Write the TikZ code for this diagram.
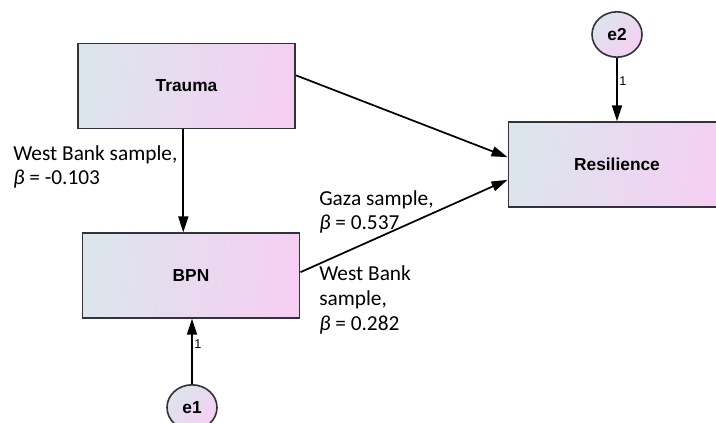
\documentclass[tikz,border=0pt]{standalone}
\usepackage{fontspec}
\setmainfont{Carlito}
\newfontfamily\boxfont{Liberation Sans}
\usepackage{tikz}
\usetikzlibrary{arrows.meta,shapes.geometric}

\definecolor{boxblue}{RGB}{221,229,236}
\definecolor{boxpink}{RGB}{245,207,243}
\definecolor{boxline}{RGB}{50,50,58}

\begin{document}
\begin{tikzpicture}[x=0.75pt,y=-0.75pt,
  varbox/.style={draw=boxline,line width=1.2pt,left color=boxblue,right color=boxpink,
    shading angle=80,minimum width=163pt,minimum height=63.5pt,inner sep=0pt,
    font=\boxfont\fontsize{13}{14}\selectfont\bfseries},
  errnode/.style={ellipse,draw=boxline,line width=1.2pt,left color=boxblue,right color=boxpink,
    shading angle=45,minimum width=37.5pt,minimum height=34pt,inner sep=0pt,
    font=\boxfont\fontsize{13}{14}\selectfont\bfseries},
  path/.style={line width=1.3pt,-{Triangle[length=12pt,width=7.5pt]}},
  coef/.style={align=left,inner sep=0pt,font=\fontsize{16}{18.6}\selectfont},
  one/.style={inner sep=0pt,font=\boxfont\fontsize{9.5}{10}\selectfont}]
\clip (0,0) rectangle (716,423);
\fill[white] (0,0) rectangle (716,423);

\node[varbox] (trauma) at (186.5,86) {Trauma};
\node[varbox] (bpn) at (191,275.5) {BPN};
\node[varbox] (res) at (617,164.5) {Resilience};
\node[errnode] (e1) at (192,407.5) {e1};
\node[errnode] (e2) at (617,34.5) {e2};

\draw[path] ([xshift=-2.4pt]trauma.south) -- ([xshift=-2.4pt]trauma.south |- bpn.north);
\draw[path] ([yshift=8pt]trauma.east) -- ([yshift=5.5pt]res.west);
\draw[path] ([yshift=2.5pt]bpn.east) -- ([yshift=-11.5pt]res.west);
\draw[path] (e1) -- (e1 |- bpn.south);
\draw[path] (e2) -- (e2 |- res.north);

\node[one] (one1) at (198,344) {1};
\node[one] (one2) at (623,81) {1};

% base anchor sits on the last line
\node[coef,anchor=base west] (wb1) at (13,185) {West Bank sample,\\\textit{β} = -0.103};
\node[coef,anchor=base west] (gaza) at (319,230) {Gaza sample,\\\textit{β} = 0.537};
\node[coef,anchor=base west] (wb2) at (319,330) {West Bank\\sample,\\\textit{β} = 0.282};
\end{tikzpicture}
\end{document}
